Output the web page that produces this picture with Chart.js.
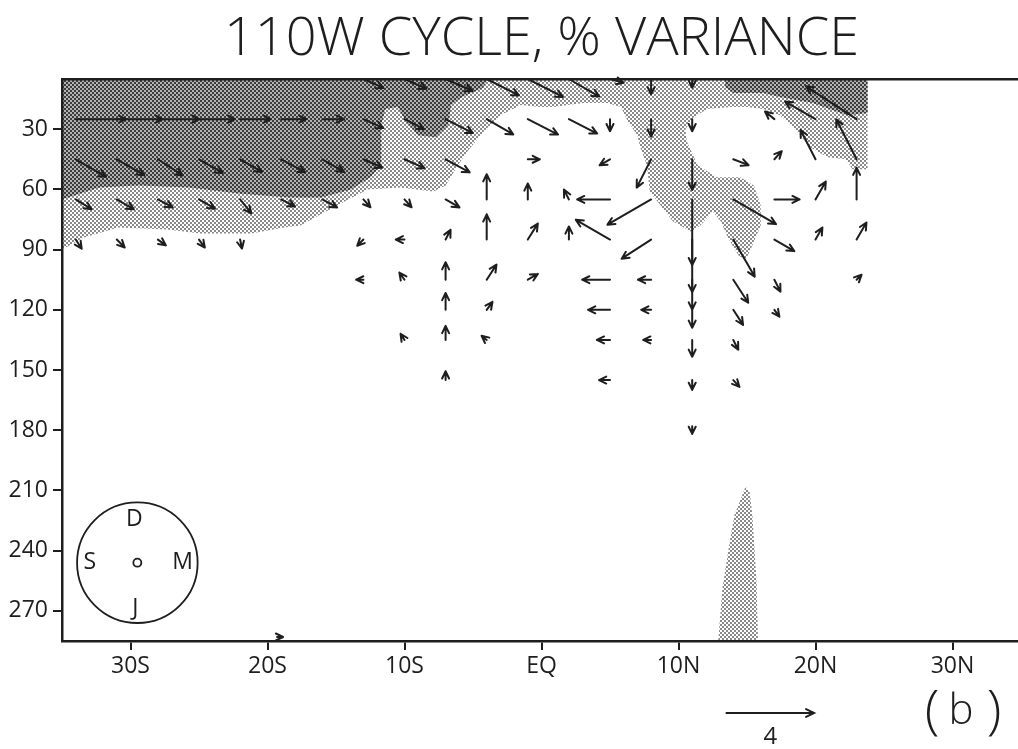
<!DOCTYPE html>
<html>
<head>
<meta charset="utf-8">
<title>110W cycle, % variance</title>
<script src="https://cdn.jsdelivr.net/npm/chart.js@4.4.1/dist/chart.umd.min.js"></script>
<style>
  html, body { margin: 0; padding: 0; background: #fff; overflow: hidden; }
  canvas { display: block; }
</style>
</head>
<body>
<canvas id="cycle" width="1030" height="749"></canvas>
<script>
// axes
const depthTicks = [30, 60, 90, 120, 150, 180, 210, 240, 270];
const latTicks = [-30, -20, -10, 0, 10, 20, 30];
const latLabels = ['30S', '20S', '10S', 'EQ', '10N', '20N', '30N'];

// annual-cycle vectors: tail position, amplitude, phase (month, Dec = 0 points up)
const arrowLat = [
  -13, -10, -7, -4, -1, 2, 5, 8, 11,
  -34, -31, -28, -25, -22, -19, -16, -13, -10, -7, -4, -1, 2, 5, 8, 11, 17, 20, 23,
  -34, -31, -28, -25, -22, -19, -16, -13, -10, -7, -1, 5, 8, 11, 14, 17, 20, 23,
  -34, -31, -28, -25, -22, -19, -16, -13, -10, -7, -4, -1, 2, 5, 8, 11, 14, 17, 20, 23,
  -34, -31, -28, -25, -22, -13, -10, -7, -4, -1, 2, 5, 8, 11, 14, 17, 20, 23,
  -13, -10, -7, -4, -1, 5, 8, 11, 14, 17, 23,
  -7, -4, 5, 8, 11, 14, 17,
  -10, -7, -4, 5, 8, 11, 14,
  -7, 5, 11, 14,
  11,
  -19.3
];
const arrowDepth = [
  5, 5, 5, 5, 5, 5, 5, 5, 5,
  25, 25, 25, 25, 25, 25, 25, 25, 25, 25, 25, 25, 25, 25, 25, 25, 25, 25, 25,
  45, 45, 45, 45, 45, 45, 45, 45, 45, 45, 45, 45, 45, 45, 45, 45, 45, 45,
  65, 65, 65, 65, 65, 65, 65, 65, 65, 65, 65, 65, 65, 65, 65, 65, 65, 65, 65, 65,
  85, 85, 85, 85, 85, 85, 85, 85, 85, 85, 85, 85, 85, 85, 85, 85, 85, 85,
  105, 105, 105, 105, 105, 105, 105, 105, 105, 105, 105,
  120, 120, 120, 120, 120, 120, 120,
  135, 135, 135, 135, 135, 135, 135,
  155, 155, 155, 155,
  178,
  283
];
const arrowAmp = [
  1.0, 1.1, 1.35, 1.65, 1.8, 1.6, 0.65, 0.7, 0.4,
  2.3, 2.1, 1.9, 1.65, 1.4, 1.15, 1.0, 1.0, 1.0, 1.4, 1.4, 1.55, 1.45, 0.55, 0.8, 0.55, 0.55, 1.6, 2.75,
  1.6, 1.45, 1.35, 1.25, 1.15, 1.25, 1.15, 0.95, 1.0, 1.25, 0.55, 0.55, 1.45, 1.4, 0.75, 0.5, 1.5, 2.05,
  0.85, 0.9, 0.77, 0.84, 0.81, 0.71, 0.77, 0.48, 0.48, 0.73, 1.15, 0.73, 0.5, 1.5, 2.3, 3.0, 2.25, 1.15, 0.94, 1.45,
  0.5, 0.51, 0.45, 0.45, 0.42, 0.4, 0.4, 0.5, 1.15, 0.86, 0.6, 1.8, 1.6, 2.4, 1.95, 1.05, 0.63, 0.9,
  0.33, 0.4, 0.8, 0.82, 0.53, 1.27, 0.6, 1.36, 1.25, 0.61, 0.32,
  0.77, 0.45, 1.0, 0.45, 0.82, 0.82, 0.39,
  0.33, 0.64, 0.3, 0.6, 0.36, 0.77, 0.5,
  0.4, 0.5, 0.45, 0.42,
  0.35,
  0.2
];
const arrowPhase = [
  3.8, 3.8, 3.8, 3.9, 3.9, 4.0, 3.5, 6.0, 6.0,
  3.0, 3.0, 3.0, 3.0, 3.0, 3.0, 3.0, 3.8, 3.9, 3.9, 4.0, 3.9, 3.9, 6.0, 6.0, 6.0, 10.3, 10.0, 10.1,
  4.0, 4.0, 4.1, 4.0, 4.0, 3.95, 4.0, 3.8, 3.8, 3.95, 3.0, 8.0, 6.9, 6.0, 3.7, 1.4, 11.1, 11.1,
  4.05, 4.0, 3.95, 4.0, 4.7, 3.9, 3.95, 4.6, 4.6, 4.0, 0, 0, 11.1, 9.0, 8.0, 6.0, 4.0, 3.0, 1.0, 0,
  4.9, 4.5, 4.2, 4.8, 5.6, 7.5, 9.0, 0.9, 0, 1.07, 0, 10.0, 7.9, 6.0, 5.0, 4.0, 1.0, 1.0,
  9.0, 10.8, 0, 1.1, 2.0, 9.0, 9.0, 6.0, 4.9, 5.1, 1.5,
  0, 1.2, 9.0, 9.0, 6.0, 4.9, 4.8,
  10.9, 0, 10.3, 9.0, 9.0, 6.0, 5.1,
  0, 9.0, 6.0, 4.6,
  6.0,
  3.0
];

// shaded variance contours (outlines in lat / depth)
const lightLat = [-35, 23.8, 23.8, 22.7, 22.2, 20.9, 19.6, 18.4, 17.4, 16.2, 15.0, 13.8, 12.1, 11.1, 10.5, 10.6,
  11.4, 12.8, 13.6, 14.5, 15.5, 16.0, 16.0, 15.2, 14.9, 14.4, 13.6, 13.1, 12.5, 11.6, 10.9, 9.6, 8.7, 7.9, 7.7,
  7.2, 7.0, 6.3, 5.8, 4.8, 3.1, 1.9, 0.9, -0.1, -1.5, -3.0, -4.2, -5.4, -6.1, -7.0, -7.9, -10.3, -12.7, -15.2,
  -17.6, -18.8, -21.2, -24.9, -27.3, -30.9, -33.4, -35];
const lightDepth = [5, 5, 50, 50, 45, 44, 39, 29, 23, 20, 19, 19, 20, 24, 30, 36,
  48, 54, 54, 54, 58, 68, 78, 91, 95, 93, 84, 76, 71, 78, 81, 76, 68, 61, 48,
  39, 33, 26, 19, 17, 17, 18, 19, 19, 18, 23, 31, 41, 48, 58, 61, 59, 60, 69,
  78, 79, 82, 82, 80, 79, 84, 90];
const darkWestLat = [-35, -3.9, -4.3, -5.8, -6.6, -6.8, -7.7, -9.0, -9.9, -10.5, -11.4, -11.7, -11.7, -12.5,
  -13.9, -16.1, -18.4, -22.1, -25.7, -29.4, -32.3, -35];
const darkWestDepth = [5, 5, 9.5, 14, 18, 28, 34, 33, 26, 19, 20, 28, 48, 54,
  60, 64, 64, 62, 59, 58, 59, 65];
const darkEastLat = [13.4, 23.8, 23.8, 22.3, 19.8, 17.4, 16.2, 14.0, 13.4];
const darkEastDepth = [5, 5, 22, 23, 17, 14, 12, 12, 9];
const spikeLat = [12.9, 13.2, 13.8, 14.1, 14.9, 15.2, 15.4, 15.7, 15.8];
const spikeDepth = [285, 259, 233, 222, 208, 211, 223, 256, 285];

const AMP_DEG = 1.6;      // one amplitude unit drawn as 1.6 degrees of latitude
const SCALE_AMP = 4;
const SCALE_LAT = 13.5;
const CLOCK_LAT = -29.5, CLOCK_DEPTH = 246, CLOCK_R_DEG = 4.4;
const INK = '#1e1e1e';

Chart.defaults.font.family = "'Open Sans', sans-serif";
Chart.defaults.color = INK;

function halftone(paper, ink) {
  const tile = document.createElement('canvas');
  tile.width = tile.height = 4;
  const g = tile.getContext('2d');
  g.fillStyle = paper;
  g.fillRect(0, 0, 4, 4);
  g.fillStyle = ink;
  g.fillRect(0, 0, 2, 2);
  g.fillRect(2, 2, 2, 2);
  return g.createPattern(tile, 'repeat');
}

const lightFill = halftone('#ffffff', '#8a8a8a');
const darkFill = halftone('#b2b2b2', '#3c3c3c');

function area(lats, depths, fill, order) {
  return {
    data: lats.map((v, i) => ({ x: v, y: depths[i] })),
    showLine: true,
    fill: 'shape',
    backgroundColor: fill,
    borderColor: 'rgba(0,0,0,0)',
    borderWidth: 0,
    pointRadius: 0,
    tension: 0,
    order
  };
}

function drawArrow(ctx, x0, y0, x1, y1, head) {
  const ang = Math.atan2(y1 - y0, x1 - x0);
  ctx.beginPath();
  ctx.moveTo(x0, y0);
  ctx.lineTo(x1, y1);
  ctx.moveTo(x1 - head * Math.cos(ang - 0.45), y1 - head * Math.sin(ang - 0.45));
  ctx.lineTo(x1, y1);
  ctx.lineTo(x1 - head * Math.cos(ang + 0.45), y1 - head * Math.sin(ang + 0.45));
  ctx.stroke();
}

const arrowPlugin = {
  id: 'phaseArrows',
  afterDatasetsDraw(chart) {
    const { ctx, scales: { x, y } } = chart;
    const unit = x.getPixelForValue(AMP_DEG) - x.getPixelForValue(0);
    ctx.save();
    ctx.strokeStyle = INK;
    ctx.lineWidth = 2;
    ctx.lineCap = 'round';
    ctx.lineJoin = 'round';
    arrowLat.forEach((lat, i) => {
      const x0 = x.getPixelForValue(lat);
      const y0 = y.getPixelForValue(arrowDepth[i]);
      const len = Math.max(arrowAmp[i] * unit, 6);
      const a = arrowPhase[i] * Math.PI / 6;
      drawArrow(ctx, x0, y0, x0 + Math.sin(a) * len, y0 - Math.cos(a) * len, Math.min(8, len + 2));
    });
    ctx.restore();
  }
};

// phase clock, reference vector and panel letter
const keyPlugin = {
  id: 'phaseKey',
  afterDraw(chart) {
    const { ctx, chartArea, scales: { x, y } } = chart;
    const unit = x.getPixelForValue(AMP_DEG) - x.getPixelForValue(0);
    const cx = x.getPixelForValue(CLOCK_LAT);
    const cy = y.getPixelForValue(CLOCK_DEPTH);
    const r = x.getPixelForValue(CLOCK_LAT + CLOCK_R_DEG) - cx;
    ctx.save();
    ctx.strokeStyle = INK;
    ctx.fillStyle = INK;
    ctx.lineWidth = 1.8;
    ctx.beginPath();
    ctx.arc(cx, cy, r, 0, Math.PI * 2);
    ctx.stroke();
    ctx.beginPath();
    ctx.arc(cx, cy, 4, 0, Math.PI * 2);
    ctx.stroke();
    ctx.font = "23px 'Open Sans'";
    ctx.textAlign = 'center';
    ctx.textBaseline = 'middle';
    ctx.fillText('D', cx - 3, cy - r * 0.72);
    ctx.fillText('J', cx - 2, cy + r * 0.76);
    ctx.fillText('S', cx - r * 0.79, cy);
    ctx.fillText('M', cx + r * 0.75, cy);

    const sx = x.getPixelForValue(SCALE_LAT);
    const sy = chartArea.bottom + 72;
    const sl = SCALE_AMP * unit;
    ctx.lineWidth = 2;
    ctx.lineCap = 'round';
    drawArrow(ctx, sx, sy, sx + sl, sy, 9);
    ctx.font = "24px 'Open Sans'";
    ctx.fillText(String(SCALE_AMP), sx + sl / 2, sy + 24);

    ctx.font = "300 54px 'Open Sans'";
    ctx.fillText('(', 932, 713);
    ctx.fillText(')', 994, 713);
    ctx.font = "300 42px 'Open Sans'";
    ctx.fillText('b', 961, 712);
    ctx.restore();
  }
};

const tickGrid = { display: true, drawOnChartArea: false, drawTicks: true, tickLength: 9, color: INK, lineWidth: 2 };
const frame = { display: true, color: INK, width: 2.5, z: 1 };

new Chart(document.getElementById('cycle'), {
  type: 'scatter',
  data: {
    datasets: [
      area(darkWestLat, darkWestDepth, darkFill, 1),
      area(darkEastLat, darkEastDepth, darkFill, 1),
      area(lightLat, lightDepth, lightFill, 2),
      area(spikeLat, spikeDepth, lightFill, 2)
    ]
  },
  options: {
    responsive: false,
    animation: false,
    events: [],
    layout: { padding: { left: 0, right: 9, top: 0, bottom: 0 } },
    plugins: {
      legend: { display: false },
      tooltip: { enabled: false },
      title: {
        display: true,
        fullSize: false,
        text: '110W CYCLE, % VARIANCE',
        color: INK,
        font: { size: 54, weight: '300', lineHeight: 1.1 },
        padding: { top: 10, bottom: 9.6 }
      }
    },
    scales: {
      x: {
        type: 'linear',
        min: -35,
        max: 35,
        afterBuildTicks: s => { s.ticks = latTicks.map(v => ({ value: v })); },
        afterFit: s => { s.height = 108; },
        ticks: {
          padding: 3,
          font: { size: 23 },
          color: INK,
          callback: v => latLabels[latTicks.indexOf(v)]
        },
        grid: tickGrid,
        border: frame
      },
      y: {
        type: 'linear',
        reverse: true,
        min: 5,
        max: 285,
        afterBuildTicks: s => { s.ticks = depthTicks.map(v => ({ value: v })); },
        afterFit: s => { s.width = 62; },
        ticks: { padding: 5, font: { size: 23 }, color: INK },
        grid: tickGrid,
        border: frame
      },
      top: {
        type: 'linear',
        axis: 'x',
        position: 'top',
        min: -35,
        max: 35,
        afterFit: s => { s.height = 0; },
        ticks: { display: false },
        grid: { display: false, drawTicks: false },
        border: frame
      }
    }
  },
  plugins: [arrowPlugin, keyPlugin]
});
</script>
</body>
</html>
